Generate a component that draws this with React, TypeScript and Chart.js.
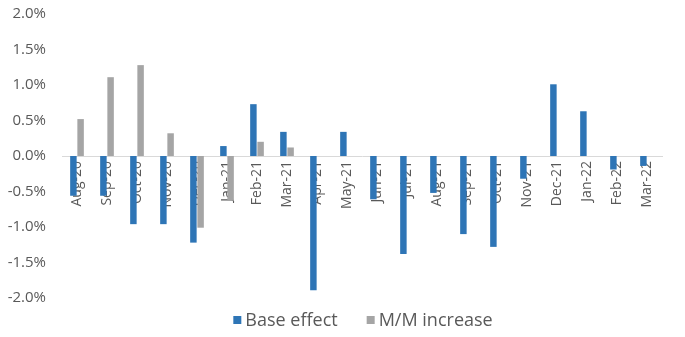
import React, { useEffect, useRef } from "react";
import { Chart, registerables } from "chart.js";

Chart.register(...registerables);

const categories = [
  "Aug-20", "Sep-20", "Oct-20", "Nov-20", "Dec-20", "Jan-21", "Feb-21", "Mar-21",
  "Apr-21", "May-21", "Jun-21", "Jul-21", "Aug-21", "Sep-21", "Oct-21", "Nov-21",
  "Dec-21", "Jan-22", "Feb-22", "Mar-22",
];
const baseEffect = [
  -0.56, -0.56, -0.96, -0.96, -1.22, 0.14, 0.73, 0.34,
  -1.89, 0.34, -0.61, -1.38, -0.52, -1.1, -1.28, -0.32,
  1.01, 0.63, -0.19, -0.14,
];
const mmIncrease = [
  0.52, 1.11, 1.28, 0.32, -1.01, -0.63, 0.2, 0.12,
  null, null, null, null, null, null, null, null,
  null, null, null, null,
];
const yTicks = [-2, -1.5, -1, -0.5, 0, 0.5, 1, 1.5, 2];

const FONT = "'Open Sans', 'Noto Sans', sans-serif";
const TEXT = "#595959";

const legendPlugin = {
  id: "bottomLegend",
  afterDraw(chart: any) {
    const ctx = chart.ctx;
    const ds = chart.data.datasets;
    ctx.save();
    ctx.font = `18px ${FONT}`;
    ctx.textBaseline = "middle";
    const box = 8, gap = 4, between = 29;
    const widths = ds.map((d: any) => box + gap + ctx.measureText(d.label).width);
    const total = widths.reduce((a: number, b: number) => a + b, 0) + between * (ds.length - 1);
    const area = chart.chartArea;
    let x = (area.left + area.right) / 2 - total / 2 + 1;
    const y = chart.height - 17;
    ds.forEach((d: any, i: number) => {
      ctx.fillStyle = d.backgroundColor;
      ctx.fillRect(x, y - box / 2, box, box);
      ctx.fillStyle = TEXT;
      ctx.textAlign = "left";
      ctx.fillText(d.label, x + box + gap, y + 1);
      x += widths[i] + between;
    });
    ctx.restore();
  },
};

export default function App() {
  const ref = useRef<HTMLCanvasElement>(null);
  useEffect(() => {
    document.body.style.margin = "0";
    const chart = new Chart(ref.current!, {
      type: "bar",
      data: {
        labels: categories,
        datasets: [
          { label: "Base effect", data: baseEffect, backgroundColor: "#2E75B6" },
          { label: "M/M increase", data: mmIncrease as any, backgroundColor: "#A5A5A5" },
        ],
      },
      plugins: [legendPlugin],
      options: {
        animation: false,
        responsive: false,
        devicePixelRatio: 1,
        layout: { padding: { top: 14, right: 23, left: 0, bottom: 39 } },
        datasets: { bar: { categoryPercentage: 0.48, barPercentage: 0.9 } },
        plugins: {
          legend: { display: false },
          tooltip: { enabled: false },
        },
        scales: {
          x: {
            position: { y: 0 } as any,
            grid: { display: false, drawTicks: false },
            border: { color: "#D9D9D9", width: 1 },
            ticks: {
              color: TEXT,
              font: { family: FONT, size: 14 },
              minRotation: 90,
              maxRotation: 90,
              padding: 5,
              autoSkip: false,
            },
          },
          y: {
            min: -2,
            max: 2,
            afterBuildTicks: (s: any) => {
              s.ticks = yTicks.map((v) => ({ value: v }));
            },
            afterFit: (s: any) => {
              s.width = 62;
              s.paddingTop = 0;
              s.paddingBottom = 0;
            },
            grid: { display: false, drawTicks: false },
            border: { display: false },
            ticks: {
              color: TEXT,
              font: { family: FONT, size: 15 },
              padding: 16,
              callback: (v: any) => Number(v).toFixed(1) + "%",
            },
          },
        },
      },
    });
    return () => chart.destroy();
  }, []);
  return (
    <div style={{ width: 685, height: 337, background: "#fff" }}>
      <canvas ref={ref} width={685} height={337} />
    </div>
  );
}
